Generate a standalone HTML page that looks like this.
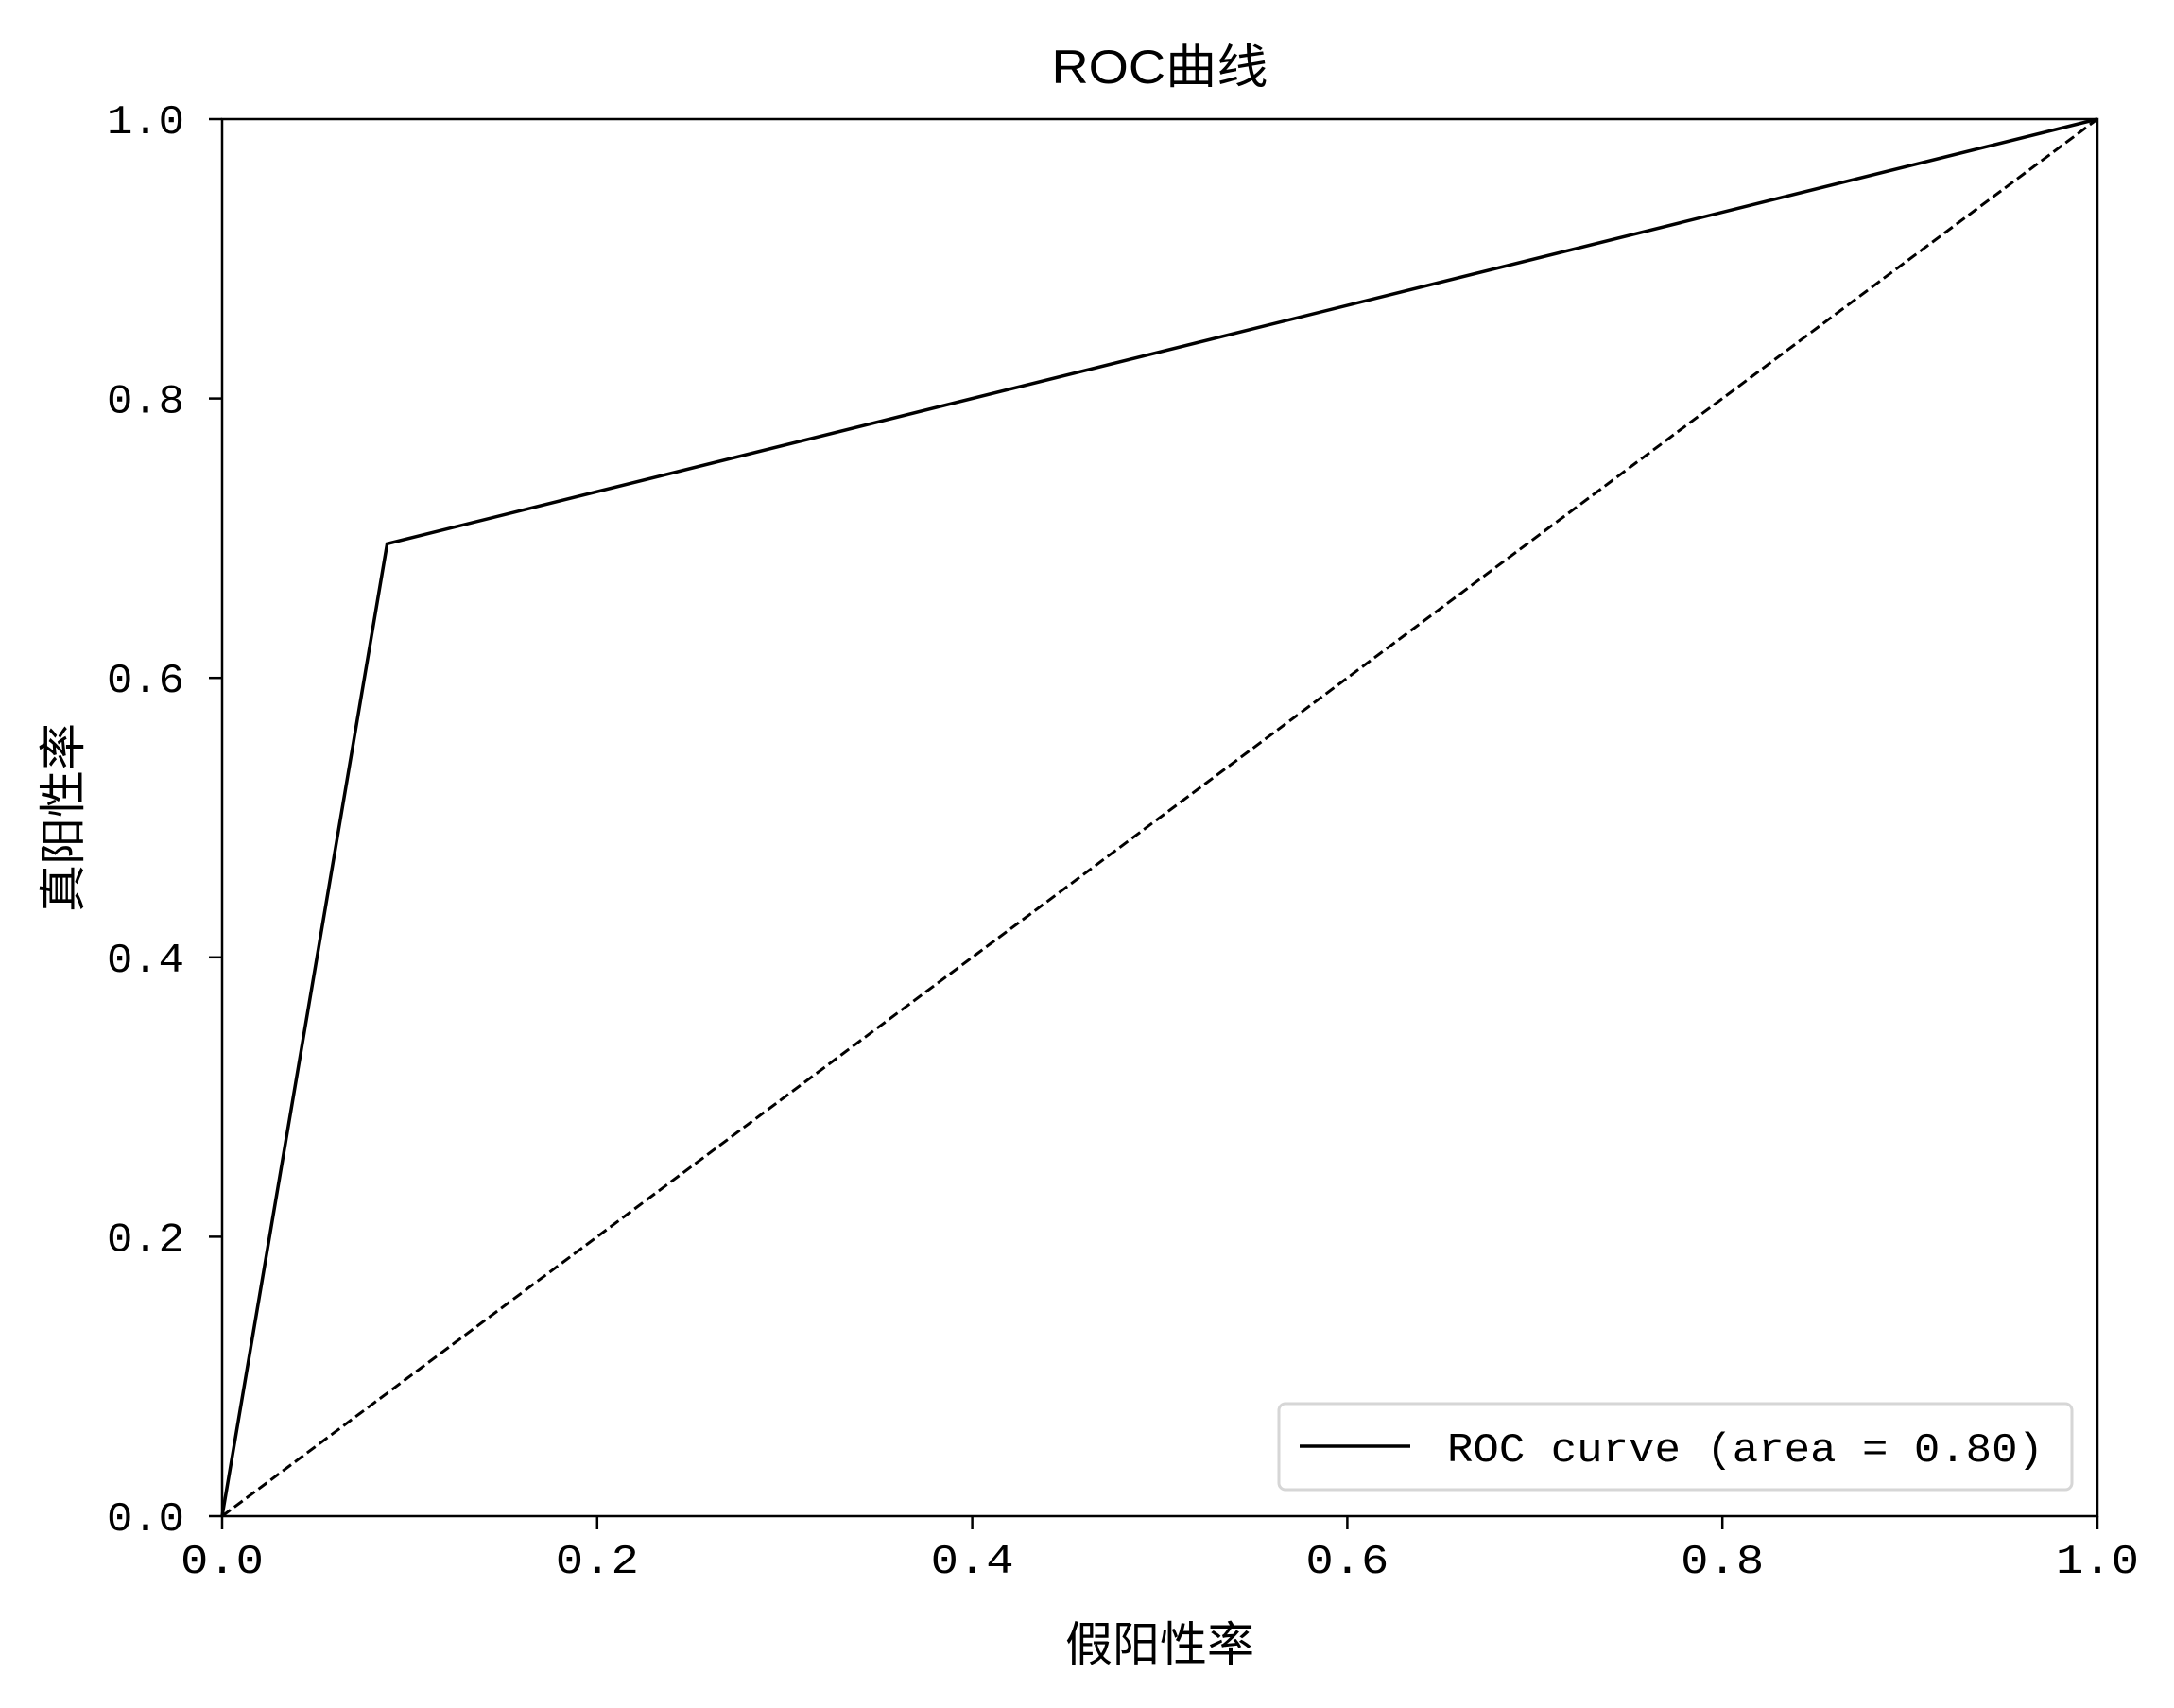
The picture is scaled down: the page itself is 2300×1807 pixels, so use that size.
<!DOCTYPE html>
<html><head><meta charset="utf-8"><style>
html,body{margin:0;padding:0;background:#fff}
svg text{font-family:"Liberation Mono","Noto Sans CJK SC",monospace;fill:#000}
svg text.cjk{font-family:"Liberation Sans","Noto Sans CJK SC",sans-serif}
</style></head><body>
<svg id="chart" width="2300" height="1802" viewBox="0 0 2300 1802" xmlns="http://www.w3.org/2000/svg">
<rect width="2300" height="1802" fill="#fff"/>
<text class="cjk" x="1227" y="88" font-size="50" text-anchor="middle" textLength="229" lengthAdjust="spacingAndGlyphs">ROC曲线</text>
<g id="grid"></g>
<g id="marks"></g>
<rect x="235" y="126" width="1984" height="1478" fill="none" stroke="#000" stroke-width="2.5"/>
<text class="cjk" x="1227" y="1757" font-size="50" text-anchor="middle">假阳性率</text>
<text class="cjk" transform="translate(84,865) rotate(-90)" font-size="50" text-anchor="middle">真阳性率</text>
<g>
<rect x="1353" y="1485" width="839" height="91" rx="7" fill="#fff" stroke="#d6d6d6" stroke-width="3"/>
<line x1="1375" y1="1530" x2="1492" y2="1530" stroke="#000" stroke-width="3.5"/>
<text x="1531" y="1546" font-size="44" textLength="631" lengthAdjust="spacingAndGlyphs">ROC curve (area = 0.80)</text>
</g>
</svg>
<script>
const fpr = [0, 0.088, 1];
const tpr = [0, 0.696, 1];
const diagX = [0, 1];
const diagY = [0, 1];
const xTicks = ["0.0","0.2","0.4","0.6","0.8","1.0"];
const yTicks = ["0.0","0.2","0.4","0.6","0.8","1.0"];
const L=235,R=2219,T=126,B=1604;
const sx=v=>L+v*(R-L), sy=v=>B-v*(B-T);
const NS="http://www.w3.org/2000/svg";
const g=document.getElementById('grid'), m=document.getElementById('marks');
function mk(t,a,p){const e=document.createElementNS(NS,t);for(const k in a)e.setAttribute(k,a[k]);p.appendChild(e);return e;}
xTicks.forEach(t=>{const x=sx(parseFloat(t));
const l=mk('line',{x1:x,y1:B,x2:x,y2:B+14,stroke:'#000','stroke-width':2.5},g);


const tx=mk('text',{x:x-44,y:B+60,'font-size':44,textLength:88,lengthAdjust:'spacingAndGlyphs'},g);tx.textContent=t;

});
yTicks.forEach(t=>{const y=sy(parseFloat(t));
const l=mk('line',{x1:L-14,y1:y,x2:L,y2:y,stroke:'#000','stroke-width':2.5},g);


const tx=mk('text',{x:L-122,y:y+15,'font-size':44,textLength:82,lengthAdjust:'spacingAndGlyphs'},g);tx.textContent=t;

});
const d=mk('polyline',{points:diagX.map((v,i)=>sx(v)+','+sy(diagY[i])).join(' '),fill:'none',stroke:'#000','stroke-width':3,'stroke-dasharray':'11,5'},m);


const c=mk('polyline',{points:fpr.map((v,i)=>sx(v)+','+sy(tpr[i])).join(' '),fill:'none',stroke:'#000','stroke-width':3.5,'stroke-linejoin':'miter'},m);


</script>
</body></html>
